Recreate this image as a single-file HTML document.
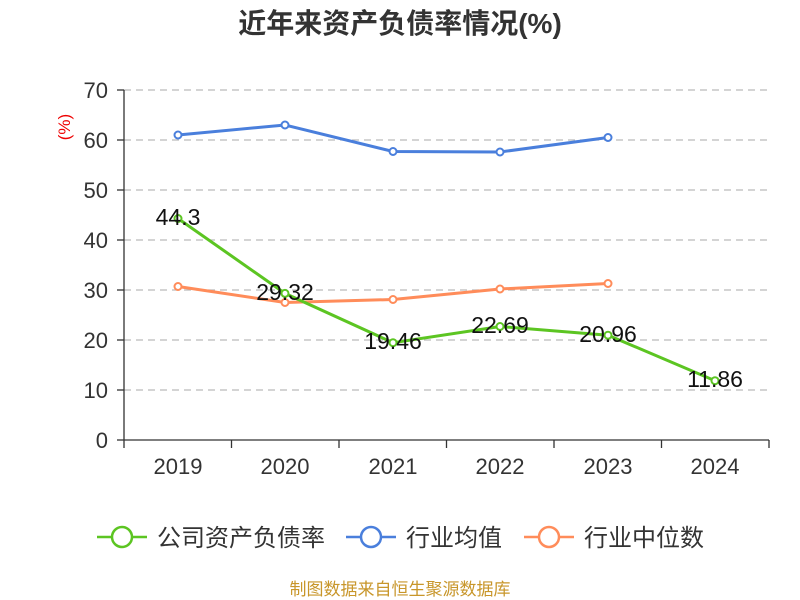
<!DOCTYPE html>
<html><head><meta charset="utf-8"><style>body{margin:0;background:#fff}svg{display:block}</style></head><body>
<svg width="800" height="600" xmlns="http://www.w3.org/2000/svg" font-family="'Liberation Sans','Noto Sans CJK SC',sans-serif">
<text x="400" y="33" text-anchor="middle" font-size="28" font-weight="bold" fill="#333">近年来资产负债率情况(%)</text>
<text x="70" y="127" text-anchor="middle" font-size="17" fill="#e00" transform="rotate(-90 70 127)">(%)</text>
<g stroke="#bbb" stroke-dasharray="7,5" stroke-width="1.3">
<line x1="124" y1="90" x2="769" y2="90"/><line x1="124" y1="140" x2="769" y2="140"/><line x1="124" y1="190" x2="769" y2="190"/><line x1="124" y1="240" x2="769" y2="240"/><line x1="124" y1="290" x2="769" y2="290"/><line x1="124" y1="340" x2="769" y2="340"/><line x1="124" y1="390" x2="769" y2="390"/>
</g>
<g stroke="#333" stroke-width="1.3">
<line x1="124" y1="90" x2="124" y2="440"/><line x1="124" y1="440" x2="769" y2="440"/>
<line x1="117" y1="90" x2="124" y2="90"/><line x1="117" y1="140" x2="124" y2="140"/><line x1="117" y1="190" x2="124" y2="190"/><line x1="117" y1="240" x2="124" y2="240"/><line x1="117" y1="290" x2="124" y2="290"/><line x1="117" y1="340" x2="124" y2="340"/><line x1="117" y1="390" x2="124" y2="390"/><line x1="117" y1="440" x2="124" y2="440"/>
<line x1="124" y1="440" x2="124" y2="448"/><line x1="231.5" y1="440" x2="231.5" y2="448"/><line x1="339" y1="440" x2="339" y2="448"/><line x1="446.5" y1="440" x2="446.5" y2="448"/><line x1="554" y1="440" x2="554" y2="448"/><line x1="661.5" y1="440" x2="661.5" y2="448"/><line x1="769" y1="440" x2="769" y2="448"/>
</g>
<g font-size="22" fill="#333" text-anchor="end">
<text x="108" y="98">70</text><text x="108" y="148">60</text><text x="108" y="198">50</text><text x="108" y="248">40</text><text x="108" y="298">30</text><text x="108" y="348">20</text><text x="108" y="398">10</text><text x="108" y="448">0</text>
</g>
<g font-size="22" fill="#333" text-anchor="middle">
<text x="178" y="474">2019</text><text x="285" y="474">2020</text><text x="393" y="474">2021</text><text x="500" y="474">2022</text><text x="608" y="474">2023</text><text x="715" y="474">2024</text>
</g>
<g fill="#fff" stroke-width="2">
<polyline fill="none" stroke="#4a7fdc" stroke-width="3" points="178,135 285,125 393,151.5 500,152 608,137.5"/>
<g stroke="#4a7fdc"><circle cx="178" cy="135" r="3.5"/><circle cx="285" cy="125" r="3.5"/><circle cx="393" cy="151.5" r="3.5"/><circle cx="500" cy="152" r="3.5"/><circle cx="608" cy="137.5" r="3.5"/></g>
<polyline fill="none" stroke="#ff8c5a" stroke-width="3" points="178,286.5 285,302.5 393,299.5 500,289 608,283.5"/>
<g stroke="#ff8c5a"><circle cx="178" cy="286.5" r="3.5"/><circle cx="285" cy="302.5" r="3.5"/><circle cx="393" cy="299.5" r="3.5"/><circle cx="500" cy="289" r="3.5"/><circle cx="608" cy="283.5" r="3.5"/></g>
<polyline fill="none" stroke="#5cc522" stroke-width="3" points="178,218.5 285,293.4 393,342.7 500,326.5 608,335.2 715,380.7"/>
<g stroke="#5cc522"><circle cx="178" cy="218.5" r="3.5"/><circle cx="285" cy="293.4" r="3.5"/><circle cx="393" cy="342.7" r="3.5"/><circle cx="500" cy="326.5" r="3.5"/><circle cx="608" cy="335.2" r="3.5"/><circle cx="715" cy="380.7" r="3.5"/></g>
</g>
<g font-size="23" fill="#111" text-anchor="middle">
<text x="178" y="225">44.3</text><text x="285" y="300">29.32</text><text x="393" y="349">19.46</text><text x="500" y="333">22.69</text><text x="608" y="342">20.96</text><text x="715" y="387">11.86</text>
</g>
<g stroke-width="2.5" fill="#fff">
<line x1="97" y1="537" x2="147" y2="537" stroke="#5cc522"/><circle cx="122" cy="537" r="10" stroke="#5cc522"/>
<line x1="346" y1="537" x2="396" y2="537" stroke="#4a7fdc"/><circle cx="371" cy="537" r="10" stroke="#4a7fdc"/>
<line x1="524" y1="537" x2="574" y2="537" stroke="#ff8c5a"/><circle cx="549" cy="537" r="10" stroke="#ff8c5a"/>
</g>
<g font-size="24" fill="#333">
<text x="157" y="546">公司资产负债率</text><text x="406" y="546">行业均值</text><text x="584" y="546">行业中位数</text>
</g>
<text x="400" y="595" text-anchor="middle" font-size="17" fill="#c8962a">制图数据来自恒生聚源数据库</text>
</svg>
</body></html>
